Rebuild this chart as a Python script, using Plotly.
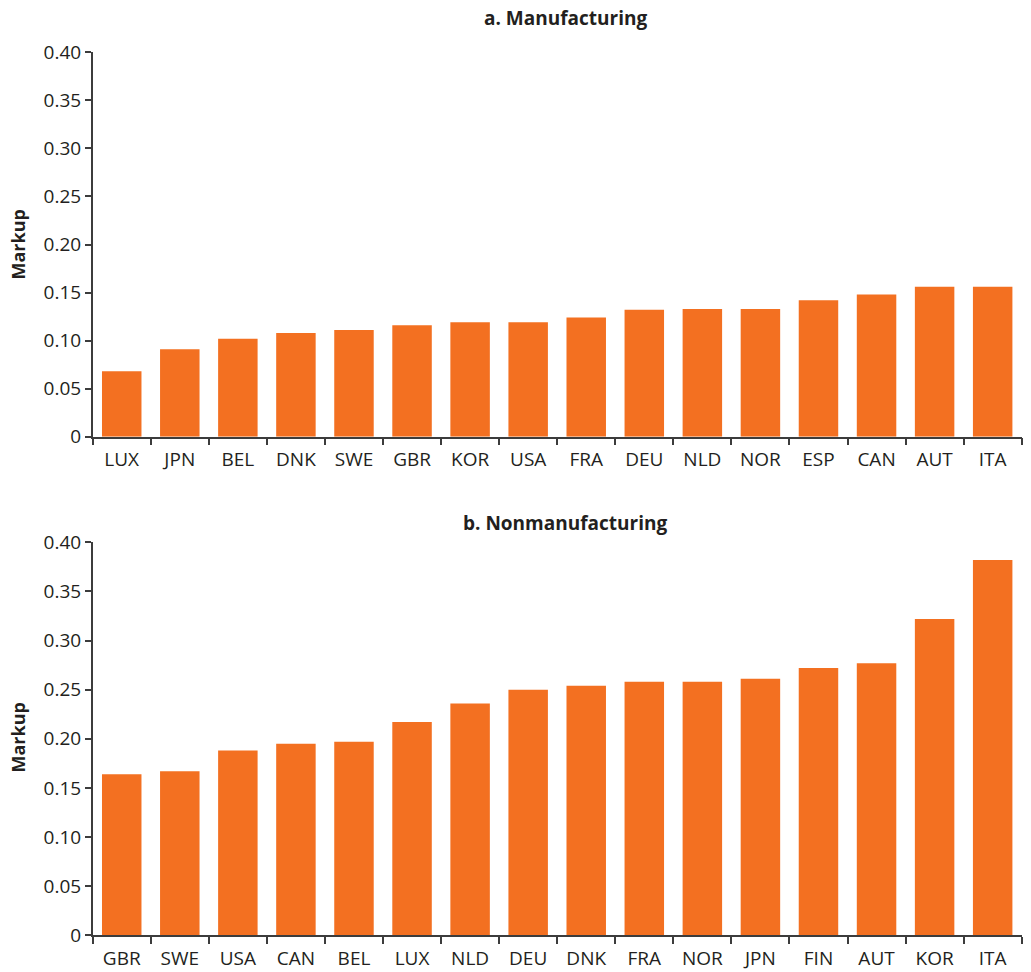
import plotly.graph_objects as go

# Panel a: manufacturing markups by country
mfg_countries = ["LUX", "JPN", "BEL", "DNK", "SWE", "GBR", "KOR", "USA",
                 "FRA", "DEU", "NLD", "NOR", "ESP", "CAN", "AUT", "ITA"]
mfg_markup = [0.068, 0.091, 0.102, 0.108, 0.111, 0.116, 0.119, 0.119,
              0.124, 0.132, 0.133, 0.133, 0.142, 0.148, 0.156, 0.156]

# Panel b: nonmanufacturing markups by country
nonmfg_countries = ["GBR", "SWE", "USA", "CAN", "BEL", "LUX", "NLD", "DEU",
                    "DNK", "FRA", "NOR", "JPN", "FIN", "AUT", "KOR", "ITA"]
nonmfg_markup = [0.164, 0.167, 0.188, 0.195, 0.197, 0.217, 0.236, 0.250,
                 0.254, 0.258, 0.258, 0.261, 0.272, 0.277, 0.322, 0.382]

y_tickvals = [0, 0.05, 0.10, 0.15, 0.20, 0.25, 0.30, 0.35, 0.40]
y_ticktext = ["0", "0.05", "0.10", "0.15", "0.20", "0.25", "0.30", "0.35", "0.40"]

panel_titles = ["a. Manufacturing", "b. Nonmanufacturing"]
y_title = "Markup"

BAR = "#F37021"
INK = "#231F20"
AXIS = "#3c3c3c"
FONT = "Open Sans"

W, H = 1031, 972

fig = go.Figure()
fig.add_trace(go.Bar(x=mfg_countries, y=mfg_markup, marker_color=BAR,
                     marker_line_width=0, xaxis="x", yaxis="y", showlegend=False))
fig.add_trace(go.Bar(x=nonmfg_countries, y=nonmfg_markup, marker_color=BAR,
                     marker_line_width=0, xaxis="x2", yaxis="y2", showlegend=False))

x_dom = [92.7 / W, 1021.7 / W]
top_dom = [1 - 436.7 / H, 1 - 52.3 / H]
bot_dom = [1 - 935.3 / H, 1 - 542.3 / H]

xaxis_common = dict(
    domain=x_dom, type="category", range=[-0.5, 15.5],
    showline=True, linecolor=AXIS, linewidth=1.5,
    ticks="outside", tickson="boundaries", ticklen=7, tickcolor=AXIS, tickwidth=1.5,
    ticklabelstandoff=5,
    showgrid=False, zeroline=False, automargin=False,
    tickfont=dict(family=FONT, size=19, color=INK),
    fixedrange=True,
)
yaxis_common = dict(
    range=[0, 0.40], tickvals=y_tickvals, ticktext=y_ticktext,
    showline=True, linecolor=AXIS, linewidth=1.5,
    ticks="outside", ticklen=6, tickcolor=AXIS, tickwidth=1.5,
    showgrid=False, zeroline=False, automargin=False,
    tickfont=dict(family=FONT, size=19, color=INK),
    fixedrange=True,
)

fig.update_layout(
    template="none",
    width=W, height=H,
    margin=dict(l=0, r=0, t=0, b=0, autoexpand=False),
    paper_bgcolor="white", plot_bgcolor="white",
    bargap=0.32,
    xaxis=dict(**xaxis_common, anchor="y"),
    yaxis=dict(**yaxis_common, domain=top_dom, anchor="x"),
    xaxis2=dict(**xaxis_common, anchor="y2"),
    yaxis2=dict(**yaxis_common, domain=bot_dom, anchor="x2"),
    font=dict(family=FONT, color=INK),
    showlegend=False,
)

# Panel titles
for title, ypix in zip(panel_titles, [18, 522.5]):
    fig.add_annotation(text=f"<b>{title}</b>", xref="paper", yref="paper",
                       x=565 / W, y=1 - ypix / H, xanchor="center", yanchor="middle",
                       showarrow=False, font=dict(family=FONT, size=19, color=INK))

# Rotated y-axis titles
for ypix in [245, 738]:
    fig.add_annotation(text=f"<b>{y_title}</b>", xref="paper", yref="paper",
                       x=17.5 / W, y=1 - ypix / H, xanchor="center", yanchor="middle",
                       textangle=-90, showarrow=False,
                       font=dict(family=FONT, size=18, color=INK))

fig.write_html("out.html")
